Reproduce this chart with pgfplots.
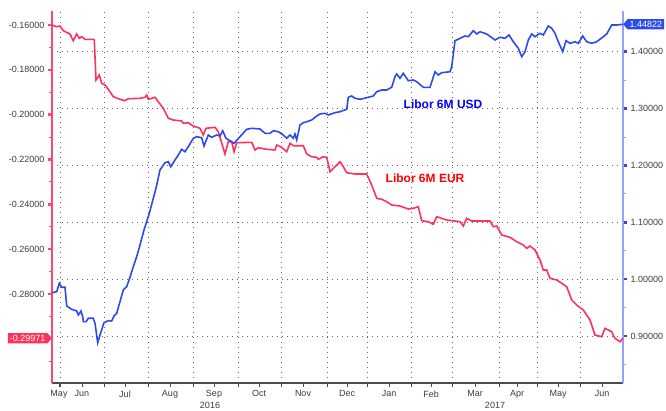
\documentclass[border=0pt]{standalone}
\usepackage{pgfplots}
\pgfplotsset{compat=1.18}
\usepackage{fontspec}
\setmainfont{Liberation Sans}
\usetikzlibrary{shapes.symbols}

\definecolor{eurline}{RGB}{255,50,90}
\definecolor{usdline}{RGB}{45,75,235}
\definecolor{euraxis}{RGB}{255,70,110}
\definecolor{usdaxis}{RGB}{150,160,250}
\definecolor{ticktext}{RGB}{60,60,60}

% x = chart position (Jun 1 2016 at 8, Jun 1 2017 at 528)
\begin{document}
\begin{tikzpicture}
\pgfplotsset{set layers}

% Libor 6M EUR, left axis
\begin{axis}[
    at={(52pt,27pt)}, anchor=south west,
    scale only axis, width=571pt, height=372pt,
    xmin=0, xmax=571,
    ymin=-0.3197, ymax=-0.15375,
    clip=false,
    axis x line*=bottom, axis y line*=left,
    x axis line style={-, draw=gray!60!black, line width=1.6pt},
    y axis line style={-, draw=euraxis, line width=1.3pt},
    xtick={8,52,96,141,186,229,275,315,359,400,447,485,528},
    xticklabels={},
    extra x ticks={7,30,73,118,162,207,251,295,337,379,423,465,506,550},
    extra x tick labels={May,Jun,Jul,Aug,Sep,Oct,Nov,Dec,Jan,Feb,Mar,Apr,May,Jun},
    extra x tick style={grid=none, major tick style={draw=none}},
    xmajorgrids,
    grid style={gray!80!black, dash pattern=on 1pt off 4pt, line width=0.7pt},
    tick align=outside,
    major tick length=4pt, minor tick length=3pt,
    x tick style={draw=gray!60!black, line width=0.8pt},
    ytick={-0.28,-0.26,-0.24,-0.22,-0.20,-0.18,-0.16},
    minor ytick={-0.31,-0.29,-0.27,-0.25,-0.23,-0.21,-0.19,-0.17},
    y tick style={draw=euraxis},
    major y tick style={line width=2.5pt},
    minor y tick style={line width=0.9pt},
    scaled y ticks=false,
    /pgf/number format/assume math mode=true,
    yticklabel style={/pgf/number format/.cd, fixed, fixed zerofill, precision=5},
    tick label style={font=\fontsize{9}{10}\selectfont, text=ticktext},
]
\addplot[eurline, line width=1.6pt] coordinates {
(0,-0.16000) (4.7,-0.16076) (8,-0.16045) (11.3,-0.16254) (18,-0.16401)
(21.3,-0.16700) (24.7,-0.16401) (27.3,-0.16593) (29.7,-0.16522) (33,-0.16638)
(41.3,-0.16638) (42.3,-0.16669) (44,-0.18454) (47.3,-0.18231) (49.7,-0.18601)
(53,-0.18677) (56.3,-0.18868) (61.3,-0.19199) (68,-0.19314) (73,-0.19377)
(76.3,-0.19288) (88,-0.19270) (93,-0.19225) (94.7,-0.19123) (96.3,-0.19314)
(103,-0.19225) (111.3,-0.19716) (116.3,-0.20162) (121.3,-0.20238) (129.7,-0.20283)
(131.3,-0.20385) (136.3,-0.20358) (141.3,-0.20506) (148,-0.20608) (151.3,-0.20907)
(154,-0.20608) (163,-0.20564) (166.3,-0.20760) (173,-0.21755) (176.3,-0.21206)
(179.7,-0.21206) (182,-0.21652) (184.7,-0.21251) (199.7,-0.21233) (203,-0.21576)
(206.3,-0.21474) (214.7,-0.21545) (223,-0.21576) (224.7,-0.21353) (229.7,-0.21456)
(234.7,-0.21652) (238,-0.21277) (241.3,-0.21384) (251.3,-0.21384) (254.7,-0.21755)
(259.7,-0.21875) (264.7,-0.21902) (266.3,-0.21991) (271.3,-0.21875) (274.7,-0.21902)
(278,-0.22544) (283,-0.22321) (288,-0.22098) (291.3,-0.22321) (294.7,-0.22589)
(303,-0.22647) (314.7,-0.22647) (319.7,-0.23138) (324.7,-0.23731) (329.7,-0.23776)
(334.7,-0.23883) (339.7,-0.24030) (348,-0.24075) (356.3,-0.24208) (361.3,-0.24177)
(366.3,-0.24106) (369.7,-0.24730) (376.3,-0.24775) (381.3,-0.24891) (384.7,-0.24552)
(394.7,-0.24699) (408,-0.24775) (411.3,-0.24967) (414.7,-0.24623) (419.7,-0.24743)
(438,-0.24743) (441.3,-0.24998) (444.7,-0.24967) (449.7,-0.25368) (458,-0.25471)
(464.7,-0.25667) (471.3,-0.25814) (474.7,-0.25961) (478,-0.25859) (483,-0.26037)
(488,-0.26483) (491.3,-0.26929) (494.7,-0.26929) (498,-0.27300) (504.7,-0.27376)
(509.7,-0.27523) (514.7,-0.27674) (519.7,-0.28268) (524.7,-0.28491) (531.3,-0.28714)
(538,-0.29160) (543,-0.29829) (549.7,-0.29905) (553,-0.29530) (556.3,-0.29606)
(559.7,-0.29682) (563,-0.29977) (568,-0.30130) (571,-0.29971)
};
\node[font=\bfseries\fontsize{12}{14}\selectfont, text=red] at (axis cs:373,-0.22825) {Libor 6M EUR};
\node[signal, signal to=east, signal pointer angle=100, fill=eurline, text=white,
      font=\fontsize{9}{10}\selectfont, inner sep=2pt, anchor=east]
      at (axis cs:0,-0.29971) {-0.29971};
\node[font=\fontsize{9}{10}\selectfont, text=ticktext] at (axis cs:158,-0.3197) [yshift=-22pt] {2016};
\node[font=\fontsize{9}{10}\selectfont, text=ticktext] at (axis cs:443,-0.3197) [yshift=-22pt] {2017};
\draw[gray!70, line width=0.6pt] (axis cs:315,-0.3197) ++(0,-14pt) -- ++(0,-13pt);
\end{axis}

% Libor 6M USD, right axis
\begin{axis}[
    at={(52pt,27pt)}, anchor=south west,
    scale only axis, width=571pt, height=372pt,
    xmin=0, xmax=571,
    ymin=0.8173, ymax=1.4716,
    clip=false,
    axis x line=none, axis y line*=right,
    y axis line style={-, draw=usdaxis, line width=1.6pt},
    ymajorgrids,
    grid style={gray!80!black, dash pattern=on 1pt off 4pt, line width=0.7pt},
    tick align=outside,
    major tick length=4pt, minor tick length=3pt,
    ytick={0.9,1.0,1.1,1.2,1.3,1.4},
    minor ytick={0.85,0.95,1.05,1.15,1.25,1.35,1.45},
    y tick style={draw=usdline},
    major y tick style={line width=2.5pt},
    minor y tick style={draw=usdaxis, line width=0.9pt},
    scaled y ticks=false,
    /pgf/number format/assume math mode=true,
    yticklabel style={/pgf/number format/.cd, fixed, fixed zerofill, precision=5},
    tick label style={font=\fontsize{9}{10}\selectfont, text=ticktext},
]
\addplot[usdline, line width=1.6pt] coordinates {
(0,0.97615) (4.7,0.97791) (7.3,0.99268) (9.7,0.98565) (13,0.98565)
(14.7,0.95276) (19.7,0.94696) (24.7,0.94397) (26.3,0.93693) (29,0.94397)
(30.7,0.93394) (31.3,0.92515) (34,0.92515) (36.3,0.93113) (41.3,0.93113)
(43,0.92233) (45.7,0.88822) (48,0.90176) (52,0.92339) (56.3,0.92691)
(59.7,0.92638) (62,0.93517) (64.7,0.93992) (68,0.96033) (71.3,0.98090)
(74.7,0.98670) (78,1.00323) (81.3,1.02188) (84.7,1.03947) (88,1.06004)
(92,1.08642) (94.7,1.10102) (97.3,1.11579) (101.3,1.14218) (104,1.15976)
(108,1.19194) (113,1.20478) (116.3,1.20654) (118.7,1.19775) (123,1.20953)
(126.3,1.21832) (129.7,1.22835) (133,1.22413) (136.3,1.23292) (141.3,1.24770)
(144.7,1.25051) (149.7,1.24875) (152,1.23416) (156.3,1.25350) (159.7,1.24946)
(164.7,1.25350) (168,1.25174) (170.7,1.26106) (174,1.24770) (178,1.24348)
(182,1.23890) (188,1.25051) (194.7,1.26352) (199.7,1.26528) (208,1.26405)
(213,1.25649) (218,1.25649) (221.3,1.26106) (226.3,1.25930) (231.3,1.25350)
(234.7,1.24770) (238,1.25350) (241.3,1.24770) (243,1.25526) (244.7,1.24471)
(248,1.27109) (251.3,1.27513) (254.7,1.27689) (259.7,1.27988) (264.7,1.28691)
(268,1.29043) (273,1.29166) (276.3,1.28868) (283,1.29272) (288,1.29448)
(294.7,1.29870) (296.3,1.31980) (299.7,1.32209) (303,1.31805) (308,1.31629)
(316.3,1.31980) (321.3,1.32209) (324.7,1.32965) (329.7,1.33264) (334.7,1.33264)
(339.7,1.33739) (343,1.35603) (344.7,1.36078) (348,1.35322) (351.3,1.36201)
(356.3,1.34900) (361.3,1.35023) (364.7,1.34724) (371.3,1.33739) (378,1.33739)
(383,1.36483) (386.3,1.35902) (389.7,1.36307) (398,1.36483) (399.7,1.37362)
(403,1.41935) (408,1.42357) (413,1.42761) (416.3,1.42638) (421.3,1.43693)
(424.7,1.43113) (428,1.43517) (434.7,1.43113) (443,1.42058) (448,1.42533)
(453,1.42357) (457,1.42937) (461.3,1.41759) (466.3,1.40598) (469.7,1.39121)
(473,1.40000) (476.3,1.42058) (479.7,1.43113) (483,1.42638) (488,1.43236)
(491.3,1.42937) (496.3,1.44520) (499.7,1.44115) (503,1.43236) (506.3,1.41759)
(510.7,1.40000) (514,1.41935) (518,1.41477) (523,1.41759) (526.3,1.41477)
(530.7,1.42761) (534.7,1.41759) (539.7,1.41477) (544.7,1.41759) (551.3,1.42638)
(554.7,1.43113) (559.7,1.44696) (564.7,1.44696) (571,1.44822)
};
\node[font=\bfseries\fontsize{12}{14}\selectfont, text=blue] at (axis cs:391,1.308) {Libor 6M USD};
\node[signal, signal to=west, signal pointer angle=100, fill=usdline, text=white,
      font=\fontsize{9}{10}\selectfont, inner sep=2pt, anchor=west]
      at (axis cs:571,1.44822) {1.44822};
\end{axis}
\pgfresetboundingbox
\useasboundingbox (0pt,0pt) rectangle (666pt,410pt);
\end{tikzpicture}
\end{document}
